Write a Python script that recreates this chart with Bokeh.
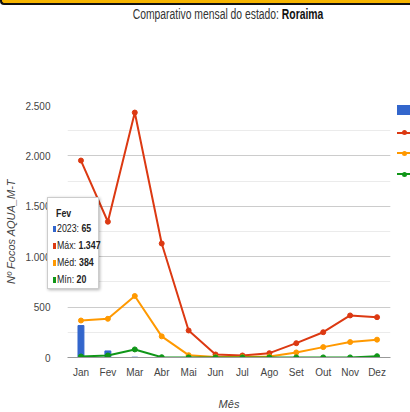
from bokeh.plotting import figure
from bokeh.models import (FactorRange, Range1d, SingleIntervalTicker, CustomJSTickFormatter,
                          ColumnDataSource, Div)
from bokeh.layouts import column
from bokeh.embed import file_html
from bokeh.resources import INLINE

months = ["Jan", "Fev", "Mar", "Abr", "Mai", "Jun", "Jul", "Ago", "Set", "Out", "Nov", "Dez"]
y2023 = [317, 65, 3, 0, 0, 0, 0, 0, 0, 0, 0, 0]
vmax = [1954, 1347, 2430, 1131, 268, 30, 20, 43, 142, 251, 417, 400]
vmed = [367, 384, 610, 210, 23, 5, 5, 10, 50, 103, 153, 177]
vmin = [10, 20, 80, 3, 1, 1, 1, 1, 1, 1, 1, 13]
series_names = ["2023", "Máx", "Méd", "Mín"]
colors = ["#3366cc", "#dc3912", "#ff9900", "#109618"]
state = "Roraima"
tip_month = 1  # Fev

FONT = "Liberation Sans"

src = ColumnDataSource(dict(m=months, a=y2023, mx=vmax, md=vmed, mn=vmin))

p = figure(width=410, height=412, x_range=FactorRange(*months, range_padding=0),
           y_range=Range1d(0, 2500), output_backend="svg", toolbar_location=None,
           min_border_left=67, min_border_right=20, min_border_top=105, min_border_bottom=54)
p.outline_line_color = None
p.background_fill_color = "white"
p.border_fill_color = "white"

p.vbar(x="m", top="a", width=0.22, source=src, color=colors[0])
for key, c in zip(["mx", "md", "mn"], colors[1:]):
    p.line(x="m", y=key, source=src, line_color=c, line_width=2)
    p.scatter(x="m", y=key, source=src, size=5, color=c)

# axes
p.yaxis.ticker = SingleIntervalTicker(interval=500, num_minor_ticks=2)
p.yaxis.formatter = CustomJSTickFormatter(code="return tick.toString().replace(/\\B(?=(\\d{3})+(?!\\d))/g, '.');")
p.ygrid.grid_line_color = "#cccccc"
p.ygrid.minor_grid_line_color = "#ebebeb"
p.xgrid.grid_line_color = None
for ax in (p.xaxis, p.yaxis):
    ax.major_tick_line_color = None
    ax.minor_tick_line_color = None
    ax.major_tick_out = 0
    ax.minor_tick_out = 0
    ax.major_tick_in = 0
    ax.minor_tick_in = 0
    ax.major_label_text_font = FONT
    ax.major_label_text_font_size = "10px"
    ax.major_label_text_color = "#444444"
    ax.axis_label_text_font = FONT
    ax.axis_label_text_font_size = "11px"
    ax.axis_label_text_font_style = "italic"
    ax.axis_label_text_color = "#444444"
p.yaxis.axis_line_color = None
p.xaxis.axis_line_color = "#999999"
p.yaxis.major_label_standoff = 17
p.xaxis.major_label_standoff = 9
p.yaxis.axis_label = "Nº Focos AQUA_M-T"
p.yaxis.axis_label_standoff = 5
p.xaxis.axis_label = "Mês"
p.xaxis.axis_label_standoff = 17

# HTML overlay: header band, title, legend keys (labels fall outside the window) and the hover box for Fev
def fmt(v):
    return f"{v:,}".replace(",", ".")

tip_vals = [y2023[tip_month], vmax[tip_month], vmed[tip_month], vmin[tip_month]]
rows = []
row_centers = [15.7, 30.7, 47.3, 64.0, 81.3]
rows.append(
    f'<div style="position:absolute;left:8px;top:{row_centers[0]-8.5}px;height:17px;line-height:17px;'
    f'white-space:nowrap;"><span style="display:inline-block;transform:scaleX(0.8);transform-origin:0 50%;'
    f'font-weight:bold;">{months[tip_month]}</span></div>')
for name, v, c, yc in zip(series_names, tip_vals, colors, row_centers[1:]):
    rows.append(
        f'<div style="position:absolute;left:4.5px;top:{yc-8.5}px;height:17px;line-height:17px;white-space:nowrap;">'
        f'<span style="display:inline-block;width:3px;height:6px;background:{c};vertical-align:middle;'
        f'margin-right:1px;"></span>'
        f'<span style="display:inline-block;transform:scaleX(0.8);transform-origin:0 50%;">{name}: <b>{fmt(v)}</b></span>'
        f'</div>')

keys = [f'<div style="position:absolute;left:397px;top:105px;width:13px;height:10px;background:{colors[0]};"></div>']
for c, yc in zip(colors[1:], [132.7, 153.3, 174.0]):
    keys.append(f'<div style="position:absolute;left:397px;top:{yc-1}px;width:13px;height:2px;background:{c};"></div>')
    keys.append(f'<div style="position:absolute;left:401.5px;top:{yc-2.5}px;width:5px;height:5px;'
                f'border-radius:50%;background:{c};"></div>')

banner = ('<div style="position:absolute;left:0;top:-4px;width:410px;height:7px;background:#f7b500;'
          'border-left:2px solid #111;border-bottom:2.5px solid #111;border-bottom-left-radius:4px;'
          'box-sizing:content-box;"></div>')

html = (
    f'<div style="position:absolute;left:0;top:0;width:410px;height:412px;overflow:hidden;'
    f'font-family:\'{FONT}\',Arial,sans-serif;">'
    + banner +
    f'<div style="position:absolute;left:0;top:6px;width:456px;text-align:center;font-size:14px;line-height:16px;'
    f'white-space:nowrap;color:#333;transform:scaleX(0.74);transform-origin:228px 0;">'
    f'Comparativo mensal do estado: <b style="color:#111;">{state}</b></div>'
    + "".join(keys) +
    f'<div style="position:absolute;left:47px;top:197px;width:52px;height:92px;background:#fff;'
    f'border:1px solid #cccccc;box-shadow:1px 1px 3px rgba(0,0,0,0.3);font-size:11px;color:#222;">'
    + "".join(rows) +
    '</div></div>'
)
overlay = Div(text=html, width=410, height=412, margin=0,
              styles={"position": "absolute", "left": "0px", "top": "0px", "overflow": "visible",
                      "pointer-events": "none"})

layout = column(p, overlay, spacing=0)
open("out.html", "w").write(file_html(layout, INLINE))
